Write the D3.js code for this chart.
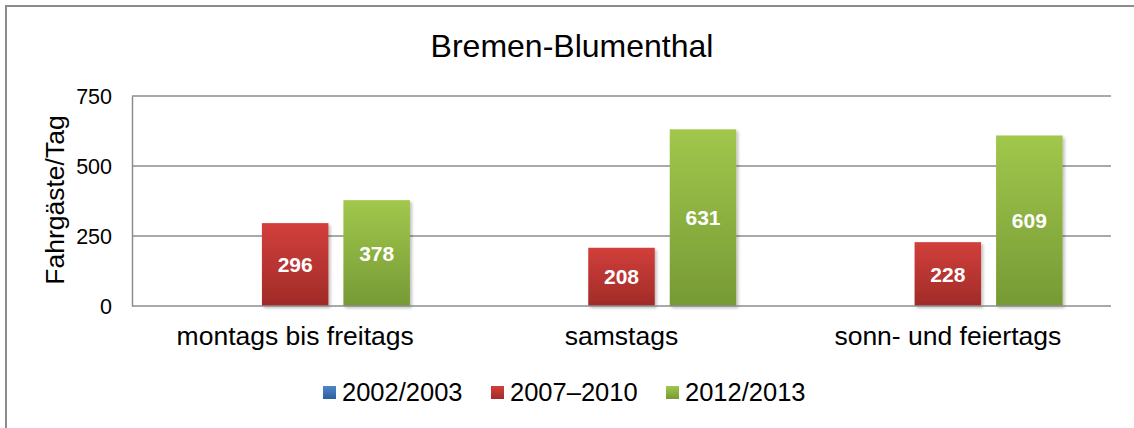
<!DOCTYPE html>
<html>
<head>
<meta charset="utf-8">
<script src="https://cdn.jsdelivr.net/npm/d3@7"></script>
<style>
  html, body { margin: 0; padding: 0; background: #fff; }
  svg { display: block; font-family: "Liberation Sans", Arial, sans-serif; }
</style>
</head>
<body>
<svg id="chart" width="1134" height="428"></svg>
<script>
// Fahrgäste pro Tag, Bremen-Blumenthal
const categories = ["montags bis freitags", "samstags", "sonn- und feiertags"];
const seriesNames = ["2002/2003", "2007\u20132010", "2012/2013"];
const values2002 = [null, null, null];
const values2007 = [296, 208, 228];
const values2012 = [378, 631, 609];
const yTicks = [0, 250, 500, 750];
const title = "Bremen-Blumenthal";
const yTitle = "Fahrgäste/Tag";

const seriesValues = [values2002, values2007, values2012];
const colors = [
  { top: "#4f86c9", bottom: "#2c5e9d" },
  { top: "#d23f3b", bottom: "#a02b28" },
  { top: "#a1c74c", bottom: "#769a35" }
];

const svg = d3.select("#chart");
const W = 1134, H = 428;
const plot = { left: 132, right: 1111, top: 96, bottom: 306 };

// outer frame
svg.append("rect")
  .attr("x", 6).attr("y", 6)
  .attr("width", W + 20).attr("height", H + 20)
  .attr("fill", "#fff")
  .attr("stroke", "#8c8c8c").attr("stroke-width", 2);

const defs = svg.append("defs");
colors.forEach((c, i) => {
  const g = defs.append("linearGradient")
    .attr("id", "grad" + i)
    .attr("x1", 0).attr("y1", 0).attr("x2", 0).attr("y2", 1);
  g.append("stop").attr("offset", "0%").attr("stop-color", c.top);
  g.append("stop").attr("offset", "100%").attr("stop-color", c.bottom);
});
const shadow = defs.append("filter").attr("id", "shadow")
  .attr("x", "-10%").attr("y", "-10%").attr("width", "130%").attr("height", "130%");
shadow.append("feDropShadow")
  .attr("dx", 2).attr("dy", 2).attr("stdDeviation", 1.5)
  .attr("flood-color", "#000").attr("flood-opacity", 0.25);

const y = d3.scaleLinear().domain([0, 750]).range([plot.bottom, plot.top]);
const x0 = d3.scaleBand().domain(categories).range([plot.left, plot.right]);
const x1 = d3.scaleBand().domain(d3.range(seriesNames.length))
  .range([0, x0.bandwidth()])
  .paddingInner(0.184).paddingOuter(0.594);

// title
svg.append("text")
  .attr("x", 572).attr("y", 57)
  .attr("text-anchor", "middle")
  .attr("font-size", 32)
  .attr("fill", "#000")
  .text(title);

// gridlines
svg.append("g").selectAll("line")
  .data(yTicks.filter(d => d > 0))
  .join("line")
  .attr("x1", plot.left).attr("x2", plot.right)
  .attr("y1", d => y(d)).attr("y2", d => y(d))
  .attr("stroke", "#8c8c8c").attr("stroke-width", 1.5);

// y axis labels
const yAxis = d3.axisLeft(y).tickValues(yTicks).tickSize(0).tickPadding(20);
const gy = svg.append("g").attr("transform", `translate(${plot.left},0)`).call(yAxis);
gy.select(".domain").attr("stroke", "#8c8c8c").attr("stroke-width", 1.5);
gy.selectAll("text")
  .attr("font-family", "Liberation Sans, Arial, sans-serif")
  .attr("font-size", 21.5).attr("fill", "#000").attr("dy", "0.35em");

// y axis title
svg.append("text")
  .attr("transform", `translate(64,200) rotate(-90)`)
  .attr("text-anchor", "middle")
  .attr("font-size", 26.5)
  .attr("fill", "#000")
  .text(yTitle);

// bars
const groups = svg.append("g").selectAll("g")
  .data(categories)
  .join("g")
  .attr("transform", d => `translate(${x0(d)},0)`);

const barData = (cat, ci) => seriesValues.map((vals, si) => ({ si, v: vals[ci] }))
  .filter(d => d.v != null);

groups.each(function(cat, ci) {
  const g = d3.select(this);
  const data = barData(cat, ci);
  g.selectAll("rect")
    .data(data)
    .join("rect")
    .attr("x", d => x1(d.si))
    .attr("width", x1.bandwidth())
    .attr("y", d => y(d.v))
    .attr("height", d => y(0) - y(d.v))
    .attr("fill", d => `url(#grad${d.si})`)
    .attr("filter", "url(#shadow)");
  g.selectAll("text.val")
    .data(data)
    .join("text")
    .attr("class", "val")
    .attr("x", d => x1(d.si) + x1.bandwidth() / 2)
    .attr("y", d => (y(d.v) + y(0)) / 2 + 7.5)
    .attr("text-anchor", "middle")
    .attr("font-size", 21)
    .attr("font-weight", "bold")
    .attr("fill", "#fff")
    .text(d => d.v);
});

// x axis baseline
svg.append("line")
  .attr("x1", plot.left).attr("x2", plot.right)
  .attr("y1", y(0)).attr("y2", y(0))
  .attr("stroke", "#8c8c8c").attr("stroke-width", 1.5);

// category labels
const xAxis = d3.axisBottom(x0).tickSize(0).tickPadding(20);
const gx = svg.append("g").attr("transform", `translate(0,${plot.bottom})`).call(xAxis);
gx.select(".domain").remove();
gx.selectAll("text")
  .attr("font-family", "Liberation Sans, Arial, sans-serif")
  .attr("font-size", 26.5).attr("fill", "#000");

// legend
const legendX = [323, 491, 666];
const legend = svg.append("g").selectAll("g")
  .data(seriesNames)
  .join("g")
  .attr("transform", (d, i) => `translate(${legendX[i]},386)`);
legend.append("rect")
  .attr("width", 13).attr("height", 13)
  .attr("fill", (d, i) => `url(#grad${i})`);
legend.append("text")
  .attr("x", 19).attr("y", 14.5)
  .attr("font-size", 25.5)
  .attr("fill", "#000")
  .text(d => d);
</script>
</body>
</html>
